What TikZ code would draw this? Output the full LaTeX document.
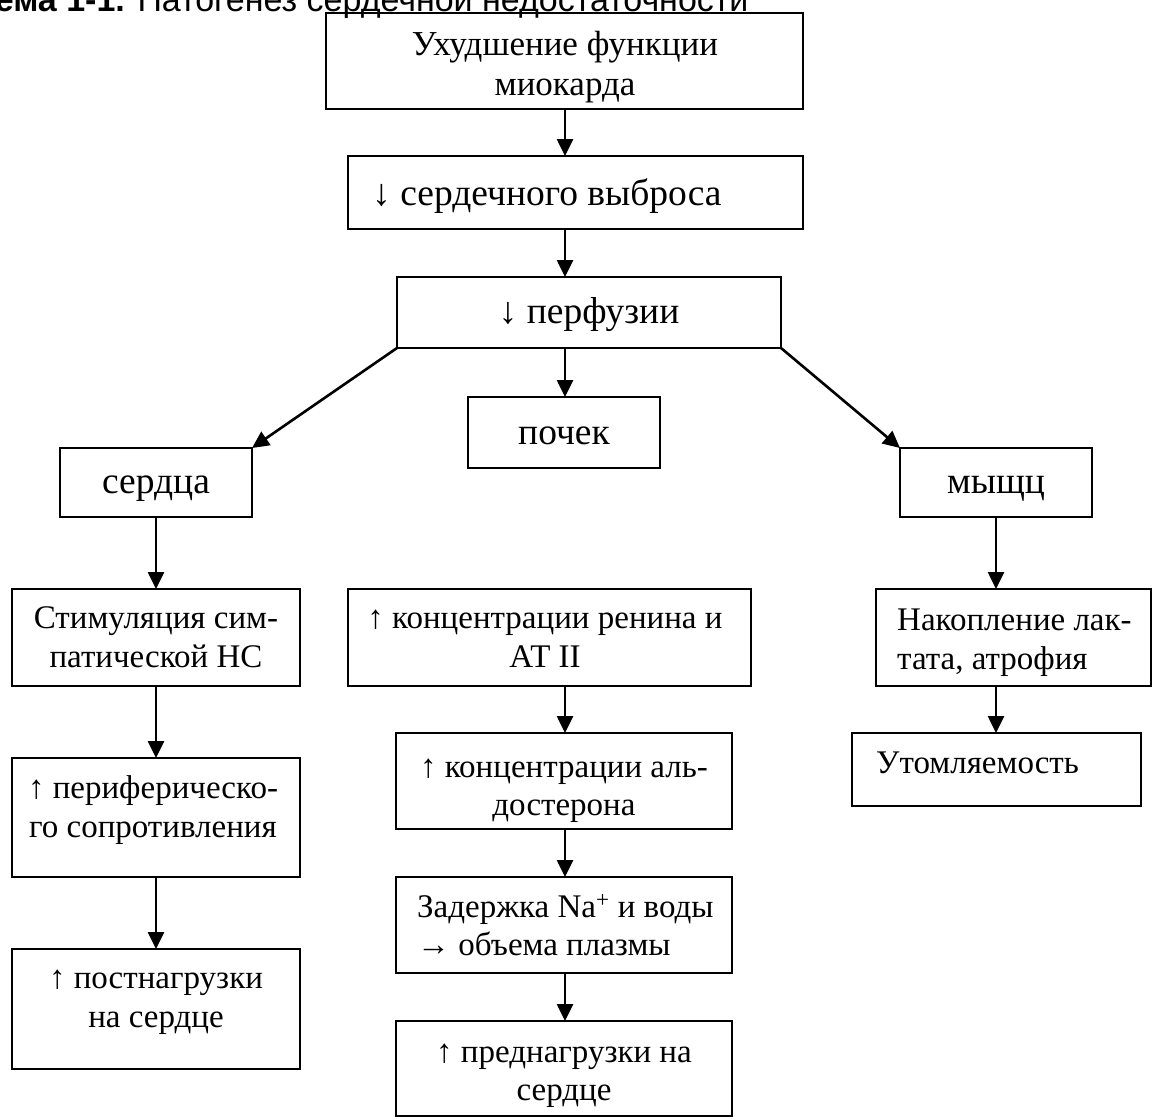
\documentclass[tikz,border=0pt]{standalone}
\usepackage{fontspec}
\setmainfont{Liberation Serif}
\newfontfamily\titlefont{Liberation Sans}
\usetikzlibrary{arrows.meta}
\newcommand\mybox[5]{\node[box, minimum width={#4pt-#2pt}, minimum height={#5pt-#3pt}] (#1) at ({(#2+#4)/2},{(#3+#5)/2}) {};}
\begin{document}
\begin{tikzpicture}[x=1pt,y=-1pt,
  box/.style={draw=black, line width=2pt, rectangle, inner sep=0pt, outer sep=0pt},
  txt/.style={font=\fontsize{33}{39}\selectfont, inner sep=0pt, align=center, anchor=base},
  txtl/.style={font=\fontsize{33}{39}\selectfont, inner sep=0pt, align=left, anchor=base west},
  big/.style={font=\fontsize{37.5}{44}\selectfont},
  arr/.style={line width=2.6pt, -{Triangle[width=16pt,length=17pt]}}]
\useasboundingbox (0,0) rectangle (1152,1117);
\node[anchor=base west, inner sep=0pt, font=\titlefont\fontsize{34}{40}\selectfont] (title) at (-48,11) {\textbf{Схема 1-1.} Патогенез сердечной недостаточности};
% boxes
\mybox{b1}{326}{13}{803}{109}
\mybox{b2}{348}{156}{803}{229}
\mybox{b3}{397}{277}{781}{348}
\mybox{b4}{468}{397}{660}{468}
\mybox{b5}{60}{448}{252}{517}
\mybox{b6}{900}{448}{1092}{517}
\mybox{b7}{12}{589}{300}{686}
\mybox{b8}{348}{589}{751}{686}
\mybox{b9}{876}{589}{1151}{686}
\mybox{b10}{12}{758}{300}{877}
\mybox{b11}{396}{733}{732}{829}
\mybox{b12}{852}{733}{1141}{806}
\mybox{b13}{12}{949}{300}{1069}
\mybox{b14}{396}{877}{732}{973}
\mybox{b15}{396}{1021}{732}{1116}
% texts (anchor base = baseline of the last line)
\node[txt, font=\fontsize{35}{40}\selectfont] (t1) at (565,95) {Ухудшение функции\\миокарда};
\node[txtl, big] (t2) at (372,205) {↓ сердечного выброса};
\node[txt, big] (t3) at (589,323) {↓ перфузии};
\node[txt, big] (t4) at (564,444) {почек};
\node[txt, big] (t5) at (156,493) {сердца};
\node[txt, big] (t6) at (996,493) {мыщц};
\node[txt] (t7) at (156,667) {Стимуляция сим-\\патической НС};
\node[txt] (t8) at (545,667) {↑ концентрации ренина и\\АТ II};
\node[txtl] (t9) at (897,669) {Накопление лак-\\тата, атрофия};
\node[txt] (t10) at (153,837) {↑ периферическо-\\го сопротивления};
\node[txt, font=\fontsize{33}{38}\selectfont] (t11) at (564,815) {↑ концентрации аль-\\достерона};
\node[txtl] (t12) at (876,773) {Утомляемость};
\node[txt] (t13) at (156,1027) {↑ постнагрузки\\на сердце};
\node[txtl, font=\fontsize{33}{38}\selectfont] (t14) at (417,955) {Задержка Na\textsuperscript{+} и воды\\→ объема плазмы};
\node[txt, font=\fontsize{33}{38}\selectfont] (t15) at (564,1100) {↑ преднагрузки на\\сердце};
% connector columns
\coordinate (cm) at (565,0);
\coordinate (cl) at (156,0);
\coordinate (cr) at (996,0);
\draw[arr] (b1.south -| cm) -- (b2.north -| cm);
\draw[arr] (b2.south -| cm) -- (b3.north -| cm);
\draw[arr] (b3.south -| cm) -- (b4.north -| cm);
\draw[arr] (b3.south west) -- (b5.north east);
\draw[arr] (b3.south east) -- (b6.north west);
\draw[arr] (b5.south -| cl) -- (b7.north -| cl);
\draw[arr] (b7.south -| cl) -- (b10.north -| cl);
\draw[arr] (b10.south -| cl) -- (b13.north -| cl);
\draw[arr] (b6.south -| cr) -- (b9.north -| cr);
\draw[arr] (b9.south -| cr) -- (b12.north -| cr);
\draw[arr] (b8.south -| cm) -- (b11.north -| cm);
\draw[arr] (b11.south -| cm) -- (b14.north -| cm);
\draw[arr] (b14.south -| cm) -- (b15.north -| cm);
\end{tikzpicture}
\end{document}
